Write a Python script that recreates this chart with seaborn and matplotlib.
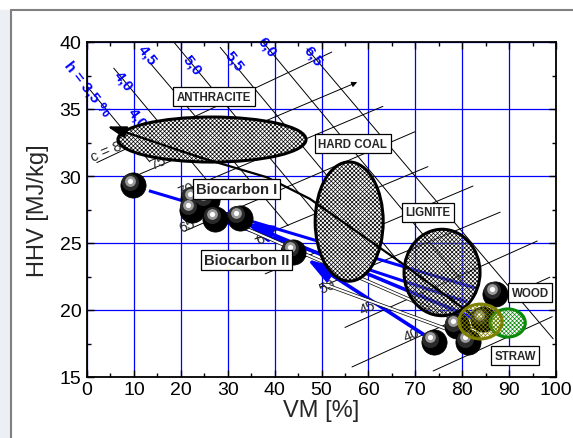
import matplotlib
matplotlib.use('Agg')
import matplotlib.pyplot as plt
import matplotlib.transforms as mtransforms
from matplotlib.patches import Ellipse, Rectangle
from matplotlib.lines import Line2D
import seaborn as sns
import numpy as np
import pandas as pd

# samples: volatile matter [%] vs HHV [MJ/kg]
sample_vm = [9.9, 22.3, 22.7, 25.5, 27.3, 32.6, 44.0, 73.9, 78.8, 81.3, 84.4, 87.0]
sample_hhv = [29.3, 27.5, 28.3, 28.2, 26.8, 26.9, 24.35, 17.6, 18.8, 17.6, 19.3, 21.2]

# iso carbon lines (start / end)
c_x0 = [2.1, 11.3, 20.5, 20.9, 35.8, 38.0, 49.7, 55.0, 56.5, 73.8]
c_y0 = [31.0, 30.15, 28.9, 25.9, 25.3, 22.7, 21.7, 18.7, 15.75, 15.45]
c_x1 = [52.2, 57.6, 63.1, 69.9, 72.7, 82.3, 88.1, 96.0, 98.7, 99.2]
c_y1 = [39.25, 37.0, 35.2, 33.3, 30.7, 29.25, 27.3, 25.15, 22.45, 19.5]
c_lab = ['c = 80', '75', '70', '65', '60', '50', '45', '40']
c_lab_x = [4.9, 15.1, 21.1, 21.3, 37.7, 51.2, 59.9, 69.3]
c_lab_y = [32.0, 31.0, 29.0, 26.3, 25.45, 21.8, 20.2, 18.2]

# iso hydrogen lines
h_x0 = [0.0, 5.7, 13.4, 18.5, 28.4, 37.5, 46.9]
h_y0 = [36.7, 38.05, 38.45, 40.0, 39.6, 40.0, 39.5]
h_x1 = [13.4, 27.3, 42.9, 53.9, 66.7, 81.7, 99.4]
h_y1 = [31.05, 28.95, 26.3, 25.05, 23.5, 21.4, 17.85]
h_lab = ['h = 3,5 %', '4,0', '4,5', '5,0', '5,5', '6,0', '6,5', '4,0']
h_lab_x = [0.0, 7.7, 12.8, 22.4, 31.3, 38.4, 48.3, 10.7]
h_lab_y = [36.6, 37.1, 39.1, 38.35, 38.6, 39.7, 39.0, 34.4]

# coalification path
path_vm = [7.1, 24.0, 38.4, 47.5, 66.7, 83.8]
path_hhv = [33.4, 31.4, 29.9, 28.3, 23.6, 19.2]
path_tip = (4.3, 33.7)

# blue conversion lines / arrows
bl_x0 = [13.2, 27.3]
bl_y0 = [28.9, 26.8]
bl_x1 = [83.2, 81.0]
bl_y1 = [21.6, 20.6]
ba_from = [(83.8, 19.2), (73.0, 17.9)]
ba_to = [(33.7, 26.5), (46.9, 23.8)]
hollow_from = [(82.5, 18.7), (82.0, 17.9)]
hollow_to = [(30.5, 26.6), (50.0, 22.0)]

# fuel regions
reg_name = ['anthracite', 'hard coal', 'lignite', 'wood', 'straw']
reg_x = [26.65, 55.9, 75.7, 89.7, 83.9]
reg_y = [32.72, 26.6, 22.8, 19.03, 19.14]
reg_w = [40.1, 14.5, 16.2, 7.5, 9.2]
reg_h = [3.36, 8.9, 6.45, 2.1, 2.6]

box_txt = ['ANTHRACITE', 'HARD COAL', 'LIGNITE', 'WOOD', 'STRAW']
box_x = [27.1, 56.7, 72.7, 94.5, 91.3]
box_y = [35.9, 32.4, 27.3, 21.3, 16.6]
bio_txt = ['Biocarbon I', 'Biocarbon II']
bio_x = [31.9, 34.0]
bio_y = [29.0, 23.7]

sns.set_style('ticks')
plt.rcParams['font.family'] = ['Liberation Sans', 'DejaVu Sans']
plt.rcParams['hatch.linewidth'] = 0.5
plt.rcParams['axes.edgecolor'] = 'black'
plt.rcParams['xtick.color'] = 'black'
plt.rcParams['ytick.color'] = 'black'

fig, ax = plt.subplots(figsize=(5.73, 4.39), dpi=100)
fig.subplots_adjust(left=87/573, right=556/573, bottom=1-378/439, top=1-43/439)

# window frame
fig.add_artist(Rectangle((0, 0), 9/573, 1-11/439, transform=fig.transFigure,
                         color='#eceff3', zorder=0))
fig.add_artist(Line2D([10.5/573, 10.5/573], [0, 1-10.5/439], transform=fig.transFigure,
                      color='#808080', lw=1.5))
fig.add_artist(Line2D([10.5/573, 1], [1-10.5/439, 1-10.5/439], transform=fig.transFigure,
                      color='#808080', lw=1.5))

# iso lines
for i in range(len(c_x0)):
    if i == 1:
        ax.annotate('', xy=(c_x1[i], c_y1[i]), xytext=(c_x0[i], c_y0[i]),
                    arrowprops=dict(arrowstyle='-|>', color='black', lw=0.7,
                                    mutation_scale=8, shrinkA=0, shrinkB=0), zorder=1)
    else:
        ax.plot([c_x0[i], c_x1[i]], [c_y0[i], c_y1[i]], color='black', lw=0.7, zorder=1)
for i in range(len(h_x0)):
    ax.plot([h_x0[i], h_x1[i]], [h_y0[i], h_y1[i]], color='black', lw=0.7, zorder=1)

for t, x, y in zip(c_lab, c_lab_x, c_lab_y):
    ax.text(x, y, t, fontsize=10.5, rotation=23, ha='center', va='center',
            rotation_mode='anchor', zorder=1.5)
for t, x, y in zip(h_lab, h_lab_x, h_lab_y):
    ax.text(x, y, t, fontsize=11, fontweight='bold', color='#0000ff', rotation=-52,
            ha='center', va='center', rotation_mode='anchor', zorder=1.5, clip_on=False)

# blue lines and arrows
for i in range(len(bl_x0)):
    ax.plot([bl_x0[i], bl_x1[i]], [bl_y0[i], bl_y1[i]], color='#0000ff', lw=2.2, zorder=2,
            solid_capstyle='butt')
for a, b in zip(ba_from, ba_to):
    ax.annotate('', xy=b, xytext=a,
                arrowprops=dict(arrowstyle='-|>,head_length=0.8,head_width=0.25',
                                color='#0000ff', lw=2.6, mutation_scale=20,
                                shrinkA=0, shrinkB=0), zorder=2)
for a, b in zip(hollow_from, hollow_to):
    ax.annotate('', xy=b, xytext=a,
                arrowprops=dict(arrowstyle='simple,head_length=0.6,head_width=0.4,tail_width=0.2',
                                fc='white', ec='black', lw=0.5, mutation_scale=10,
                                shrinkA=0, shrinkB=0), zorder=2.1)

# coal regions
face = {'anthracite': 'white', 'hard coal': 'white', 'lignite': (1, 1, 1, 0.3),
        'wood': 'white', 'straw': 'none'}
edge = {'anthracite': 'black', 'hard coal': 'black', 'lignite': 'black',
        'wood': '#0a8a0a', 'straw': '#7f7f00'}
zo = {'anthracite': 3, 'hard coal': 3, 'lignite': 3, 'wood': 6, 'straw': 6.5}
for n, x, y, w, h in zip(reg_name, reg_x, reg_y, reg_w, reg_h):
    ax.add_patch(Ellipse((x, y), w, h, facecolor=face[n], edgecolor=edge[n],
                         lw=2.2, hatch='xxxxxxxx', zorder=zo[n]))

# coalification path
sns.lineplot(x=path_vm, y=path_hhv, sort=False, color='black', lw=1.6, ax=ax, zorder=4)
ax.annotate('', xy=path_tip, xytext=(path_vm[0], path_hhv[0]),
            arrowprops=dict(arrowstyle='-|>,head_length=0.7,head_width=0.22', color='black',
                            lw=1.6, mutation_scale=16, shrinkA=0, shrinkB=0), zorder=4)

# spheres
sns.scatterplot(x=sample_vm, y=sample_hhv, s=330, color='black', edgecolor='black',
                linewidth=0.5, ax=ax, zorder=5)
off = mtransforms.offset_copy(ax.transData, fig=fig, x=-2.5, y=2.5, units='points')
ax.scatter(sample_vm, sample_hhv, s=150, color='#2a2a2a', transform=off, zorder=5.1, lw=0)
off2 = mtransforms.offset_copy(ax.transData, fig=fig, x=-2.5, y=3.5, units='points')
ax.scatter(sample_vm, sample_hhv, s=60, color='#9a9a9a', transform=off2, zorder=5.2, lw=0)
ax.scatter(sample_vm, sample_hhv, s=14, color='white', transform=off2, zorder=5.3, lw=0)

# labels
for t, x, y in zip(box_txt, box_x, box_y):
    ax.text(x, y, t, fontsize=8.3, fontweight='bold', ha='center', va='center', zorder=8,
            bbox=dict(boxstyle='square,pad=0.3', fc='white', ec='black', lw=0.9))
for t, x, y in zip(bio_txt, bio_x, bio_y):
    ax.text(x, y, t, fontsize=10.6, fontweight='bold', ha='center', va='center', zorder=8,
            bbox=dict(boxstyle='square,pad=0.2', fc='white', ec='black', lw=0.9))

ax.set_xlim(0, 100)
ax.set_ylim(15, 40)
ax.set_xticks(range(0, 101, 10))
ax.set_xticks(np.arange(0, 101, 5), minor=True)
ax.set_yticks(range(15, 41, 5))
ax.set_yticks(np.arange(15, 40.1, 2.5), minor=True)
ax.tick_params(which='both', direction='in', top=True, right=True, labelsize=14, width=1)
ax.tick_params(which='major', length=5)
ax.tick_params(which='minor', length=3)
ax.tick_params(axis='x', pad=3)
ax.tick_params(axis='y', pad=4)
ax.grid(True, which='major', color='#0000ff', lw=0.9)
ax.set_axisbelow(True)
for sp in ax.spines.values():
    sp.set_linewidth(1.3)
ax.set_xlabel('VM [%]', fontsize=17)
ax.set_ylabel('HHV [MJ/kg]', fontsize=17)
ax.xaxis.set_label_coords(0.5, -0.066)
ax.yaxis.set_label_coords(-0.081, 0.5)

fig.savefig('out.png', dpi=100)
